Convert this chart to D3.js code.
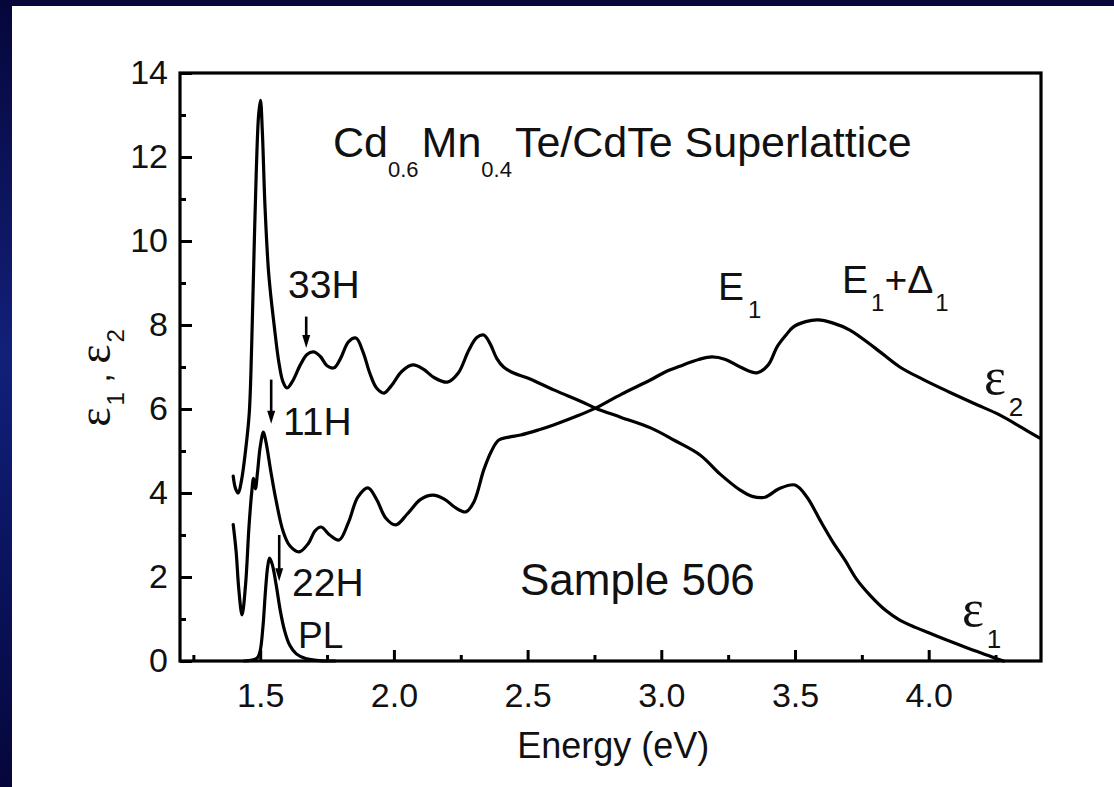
<!DOCTYPE html>
<html>
<head>
<meta charset="utf-8">
<script src="https://cdn.jsdelivr.net/npm/d3@7"></script>
<style>
  html, body { margin: 0; padding: 0; background: #07073a; overflow: hidden; }
  svg { display: block; }
</style>
</head>
<body>
<svg id="chart" width="1114" height="787"></svg>
<script>
// ---- data: dielectric function of a Cd0.6Mn0.4Te/CdTe superlattice (sample 506) ----
const energyEps1 = [1.399,1.408,1.418,1.430,1.445,1.459,1.468,1.476,1.485,1.494,1.501,1.508,1.518,1.532,1.552,1.570,1.585,1.600,1.620,1.650,1.675,1.700,1.725,1.750,1.776,1.800,1.830,1.858,1.885,1.910,1.935,1.963,1.990,2.030,2.071,2.110,2.150,2.200,2.240,2.280,2.310,2.336,2.360,2.385,2.410,2.450,2.500,2.600,2.700,2.754,2.850,2.960,3.050,3.146,3.220,3.295,3.340,3.388,3.440,3.500,3.545,3.593,3.640,3.687,3.730,3.780,3.840,3.890,3.950,4.000,4.060,4.116,4.170,4.228,4.260,4.280];
const eps1 = [4.40,4.10,4.00,4.30,5.00,5.90,7.50,9.50,11.6,13.0,13.35,12.6,10.8,9.2,8.0,7.1,6.65,6.50,6.65,7.05,7.30,7.36,7.25,7.03,6.98,7.20,7.60,7.69,7.35,6.85,6.50,6.38,6.55,6.90,7.05,6.95,6.75,6.64,6.85,7.40,7.70,7.76,7.55,7.20,7.00,6.85,6.74,6.45,6.18,6.02,5.80,5.55,5.25,4.90,4.45,4.07,3.92,3.90,4.10,4.19,3.90,3.36,2.85,2.40,1.95,1.57,1.20,0.98,0.80,0.67,0.52,0.38,0.25,0.12,0.04,0.00];

const energyEps2 = [1.399,1.410,1.420,1.432,1.445,1.458,1.468,1.475,1.482,1.490,1.500,1.512,1.522,1.540,1.560,1.585,1.610,1.646,1.680,1.705,1.728,1.760,1.795,1.830,1.865,1.903,1.935,1.970,2.007,2.050,2.100,2.146,2.190,2.230,2.269,2.300,2.336,2.365,2.392,2.430,2.474,2.540,2.597,2.680,2.754,2.850,2.959,3.020,3.082,3.140,3.190,3.240,3.295,3.358,3.400,3.433,3.465,3.493,3.540,3.586,3.640,3.705,3.800,3.892,3.980,4.078,4.170,4.265,4.350,4.414];
const eps2 = [3.25,2.60,1.70,1.10,1.80,3.20,4.00,4.35,4.10,4.50,5.10,5.45,5.20,4.50,3.80,3.10,2.75,2.60,2.80,3.10,3.19,3.00,2.88,3.30,3.90,4.12,3.85,3.40,3.24,3.50,3.85,3.95,3.85,3.65,3.55,3.80,4.55,5.00,5.26,5.33,5.38,5.50,5.62,5.82,6.02,6.35,6.69,6.90,7.05,7.18,7.24,7.18,7.00,6.86,7.05,7.48,7.75,7.95,8.08,8.12,8.05,7.88,7.45,7.00,6.70,6.40,6.13,5.86,5.55,5.31];

// photoluminescence line (arbitrary units on the same axis)
const energyPL = [1.440,1.470,1.490,1.500,1.510,1.520,1.528,1.535,1.545,1.560,1.575,1.590,1.610,1.635,1.670,1.720,1.780];
const pl = [0.00,0.02,0.08,0.25,0.80,1.70,2.25,2.45,2.30,1.80,1.20,0.75,0.38,0.17,0.06,0.01,0.00];

// superlattice transitions marked by arrows: energy, arrow top, arrow tip
const transitionNames = ["33H", "11H", "22H"];
const transitionEnergy = [1.672, 1.541, 1.571];
const transitionFrom = [8.20, 6.70, 3.00];
const transitionTo = [7.45, 5.65, 1.90];

// axis ticks
const xMajorTicks = [1.5, 2.0, 2.5, 3.0, 3.5, 4.0];
const xMinorTicks = [1.25, 1.75, 2.25, 2.75, 3.25, 3.75, 4.25];
const yMajorTicks = [0, 2, 4, 6, 8, 10, 12, 14];
const yMinorTicks = [1, 3, 5, 7, 9, 11, 13];

// ---- drawing ----
const svg = d3.select("#chart");
const W = 1114, H = 787;
const SANS = "'Liberation Sans', Arial, Helvetica, sans-serif";
const SERIF = "'Liberation Serif', 'DejaVu Serif', serif";

// slide backdrop
const defs = svg.append("defs");
const grad = defs.append("linearGradient").attr("id", "edge").attr("x1", 0).attr("x2", 0).attr("y1", 0).attr("y2", 1);
grad.append("stop").attr("offset", "0%").attr("stop-color", "#06063a");
grad.append("stop").attr("offset", "45%").attr("stop-color", "#12207a");
grad.append("stop").attr("offset", "70%").attr("stop-color", "#0a1460");
grad.append("stop").attr("offset", "100%").attr("stop-color", "#06063a");
svg.append("rect").attr("width", W).attr("height", H).attr("fill", "#07073a");
svg.append("rect").attr("x", 0).attr("y", 0).attr("width", 12).attr("height", H).attr("fill", "url(#edge)");
svg.append("rect").attr("x", 12).attr("y", 6).attr("width", W - 12).attr("height", H - 6).attr("fill", "#ffffff");

const x = d3.scaleLinear().domain([1.2, 4.42]).range([180, 1041]);
const y = d3.scaleLinear().domain([0, 14]).range([661, 73]);

const g = svg.append("g");

// minor ticks
g.append("g").attr("transform", `translate(0,${y(0)})`)
  .call(d3.axisBottom(x).tickValues(xMinorTicks).tickSize(-6).tickFormat(""))
  .call(s => s.select(".domain").remove());
g.append("g").attr("transform", `translate(${x(1.2)},0)`)
  .call(d3.axisLeft(y).tickValues(yMinorTicks).tickSize(-6).tickFormat(""))
  .call(s => s.select(".domain").remove());

// major ticks with labels
const xAxis = g.append("g").attr("transform", `translate(0,${y(0)})`)
  .call(d3.axisBottom(x).tickValues(xMajorTicks).tickSizeInner(-11).tickSizeOuter(0).tickPadding(22).tickFormat(d3.format(".1f")));
xAxis.select(".domain").remove();
const yAxis = g.append("g").attr("transform", `translate(${x(1.2)},0)`)
  .call(d3.axisLeft(y).tickValues(yMajorTicks).tickSizeInner(-12).tickSizeOuter(0).tickPadding(12).tickFormat(d3.format("d")));
yAxis.select(".domain").remove();

g.selectAll(".tick line").attr("stroke", "#000").attr("stroke-width", 3);
g.selectAll(".tick text").attr("fill", "#111").attr("font-family", SANS).attr("font-size", 34);

// frame
g.append("rect")
  .attr("x", x(1.2)).attr("y", y(14))
  .attr("width", x(4.42) - x(1.2)).attr("height", y(0) - y(14))
  .attr("fill", "none").attr("stroke", "#000").attr("stroke-width", 3.2);

// curves
const line = d3.line().x(d => x(d[0])).y(d => y(d[1])).curve(d3.curveCatmullRom.alpha(0.5));
const series = [
  d3.zip(energyEps1, eps1),
  d3.zip(energyEps2, eps2),
  d3.zip(energyPL, pl)
];
g.selectAll("path.curve").data(series).join("path")
  .attr("class", "curve")
  .attr("d", line)
  .attr("fill", "none").attr("stroke", "#000")
  .attr("stroke-width", 3.2).attr("stroke-linejoin", "round").attr("stroke-linecap", "round");

// transition arrows
transitionNames.forEach((name, i) => {
  const ax = x(transitionEnergy[i]);
  const y0 = y(transitionFrom[i]), y1 = y(transitionTo[i]);
  g.append("line").attr("x1", ax).attr("x2", ax).attr("y1", y0).attr("y2", y1 - 8)
    .attr("stroke", "#000").attr("stroke-width", 2.6);
  g.append("path")
    .attr("d", `M${ax - 4},${y1 - 13} L${ax + 4},${y1 - 13} L${ax},${y1} Z`)
    .attr("fill", "#000");
});

// text annotations
function label(px, py, size) {
  return g.append("text").attr("x", px).attr("y", py)
    .attr("font-family", SANS).attr("font-size", size).attr("fill", "#111");
}

// title with subscripts
const title = label(333, 157, 43);
title.append("tspan").text("Cd");
title.append("tspan").attr("font-size", 22).attr("dy", 20).text("0.6");
title.append("tspan").attr("dy", -20).attr("dx", 3).text("Mn");
title.append("tspan").attr("font-size", 22).attr("dy", 20).text("0.4");
title.append("tspan").attr("dy", -20).attr("dx", 3).text("Te/CdTe Superlattice");

label(288, 298, 39).text("33H");
label(283, 435, 39).text("11H");
label(292, 596, 39).text("22H");
label(298, 648, 37).text("PL");
label(520, 595, 44).text("Sample 506");

const e1 = label(718, 300, 39);
e1.append("tspan").text("E");
e1.append("tspan").attr("font-size", 24).attr("dy", 18).attr("dx", 4).text("1");

const e1d = label(842, 293, 39);
e1d.append("tspan").text("E");
e1d.append("tspan").attr("font-size", 24).attr("dy", 18).attr("dx", 3).text("1");
e1d.append("tspan").attr("dy", -18).text("+Δ");
e1d.append("tspan").attr("font-size", 24).attr("dy", 18).attr("dx", 2).text("1");

function epsLabel(px, py, sub) {
  const t = g.append("text").attr("x", px).attr("y", py).attr("fill", "#111");
  t.append("tspan").attr("font-family", SERIF).attr("font-size", 52).text("ε");
  t.append("tspan").attr("font-family", SANS).attr("font-size", 26).attr("dy", 22).attr("dx", 3).text(sub);
  return t;
}
epsLabel(984, 394, "2");
epsLabel(962, 626, "1");

// axis titles
label(x(2.82), 758, 36).attr("text-anchor", "middle").text("Energy (eV)");

const yTitle = g.append("text")
  .attr("transform", `translate(110,378) rotate(-90)`)
  .attr("text-anchor", "middle").attr("fill", "#111");
yTitle.append("tspan").attr("font-family", SERIF).attr("font-size", 46).text("ε");
yTitle.append("tspan").attr("font-family", SANS).attr("font-size", 24).attr("dy", 14).attr("dx", 2).text("1");
yTitle.append("tspan").attr("font-family", SANS).attr("font-size", 34).attr("dy", -14).text(" ,  ");
yTitle.append("tspan").attr("font-family", SERIF).attr("font-size", 46).text("ε");
yTitle.append("tspan").attr("font-family", SANS).attr("font-size", 24).attr("dy", 14).attr("dx", 2).text("2");
</script>
</body>
</html>
